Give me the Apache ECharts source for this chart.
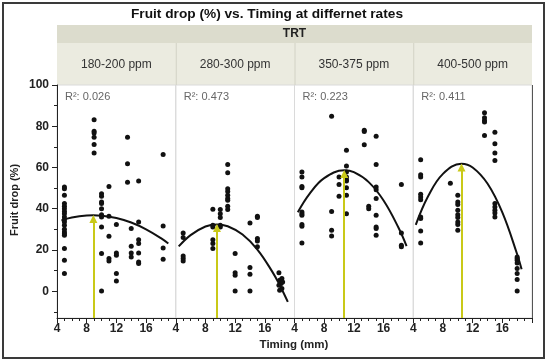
<!DOCTYPE html>
<html><head><meta charset="utf-8">
<script src="https://cdn.jsdelivr.net/npm/echarts@6/dist/echarts.min.js"></script>
<style>html,body{margin:0;padding:0;background:#fff}#c{width:550px;height:361px}</style>
</head><body><div id="c"></div>
<script>
const titleText = 'Fruit drop (%) vs. Timing at differnet rates';
const groupLabel = 'TRT';
const panelLabels = ['180-200 ppm', '280-300 ppm', '350-375 ppm', '400-500 ppm'];
const r2Labels = ['0.026', '0.473', '0.223', '0.411'];
const yTicks = [0, 20, 40, 60, 80, 100];
const yMinorTicks = [-10, 10, 30, 50, 70, 90];

// [timing, [fruit drop values]]
const drop180 = [
  [5, [50.5, 49.7, 46.5, 42.5, 41.2, 40, 38.7, 37.6, 36, 34.7, 33.6, 32, 30, 28.7, 27.9, 27.1, 20.7, 15, 8.6]],
  [9, [83.1, 77.6, 76.7, 74.7, 71.2, 67.0]],
  [10, [47.3, 46, 43.2, 42.5, 40, 37.1, 36, 31.1, 18.3, 0.1]],
  [11, [50.8, 36.3, 26.6, 15.8, 14.7]],
  [12, [32.4, 18.5, 17.4, 8.6, 5.0]],
  [13.5, [74.7, 61.8, 52.8]],
  [14, [30.4, 21.8, 18.5, 16.6]],
  [15, [53.4, 33.6, 25.0, 23.1, 18.5, 14.2, 13.4]],
  [18.3, [66.3, 31.6, 21.0, 15.5]]
];
const drop280 = [
  [5, [28.2, 26.0, 17.1, 15.8, 14.7]],
  [9, [39.7, 32.0, 31.1, 25.0, 23.1, 20.7]],
  [10, [39.6, 37.6, 35.7, 32.0, 31.1]],
  [11, [61.5, 57.5, 49.7, 48.4, 46.5, 44.9, 44.1, 41.2, 39.6]],
  [12, [18.3, 8.9, 7.7, 0.1]],
  [14, [33.1, 11.5, 8.2, 0.1]],
  [15, [36.3, 35.7, 25.5, 24.4, 21.5]],
  [17.9, [8.9, 2.9]],
  [18.0, [5.3, 0.5]],
  [18.2, [3.7]],
  [18.3, [6.1, 1.3]],
  [18.4, [4.5]]
];
const drop350 = [
  [5, [57.8, 55.4, 50.8, 50.2, 38.4, 37.6, 36.8, 32.4, 31.5, 23.4]],
  [9, [84.9, 38.7, 29.5, 26.8]],
  [10, [55.4, 51.8, 46.0]],
  [11, [68.3, 60.7, 57.8, 55.4, 54.1, 53.4, 50.2, 46.5, 37.6]],
  [13.4, [78.0, 77.5, 71.0]],
  [14, [41.2, 40.0]],
  [15, [75.2, 61.5, 50.5, 49.2, 44.9, 36.8, 31.1, 30.4, 27.1]],
  [18.4, [51.7, 28.2, 22.3, 21.5]]
];
const drop400 = [
  [5, [63.8, 56.5, 55.4, 47.0, 45.7, 44.4, 36.0, 35.2, 29.2, 23.4]],
  [9, [52.4]],
  [10, [46.5, 43.2, 42.1, 39.2, 37.1, 35.7, 33.6, 32.4, 29.5]],
  [13.6, [86.5, 84.1, 82.8, 82.0, 75.5]],
  [15, [77.1, 71.5, 67.0, 63.4, 42.5, 40.8, 39.2, 37.9, 36.0]],
  [18, [16.6, 15.8, 15.0, 13.7, 11.0, 8.6, 5.7, 0.1]]
];

// fitted curves
const curveT180 = [4.6, 6, 8, 8.9, 10, 12, 14, 16, 18, 19];
const curveV180 = [34.3, 35.7, 36.7, 36.8, 36.6, 35.5, 33.3, 30.0, 25.7, 23.1];
const curveT280 = [4.4, 6, 8, 9.55, 11, 13, 15, 17, 18, 19.1];
const curveV280 = [21.7, 27.2, 31.4, 32.4, 31.5, 27.5, 20.2, 9.5, 3.0, -5.2];
const curveT350 = [4.45, 6, 8, 10.7, 12, 14, 16, 18, 19.1];
const curveV350 = [38.3, 47.1, 54.8, 58.6, 57.7, 52.9, 44.0, 30.9, 21.9];
const curveT400 = [4.34, 6, 8, 10.5, 12, 14, 16, 18, 18.6];
const curveV400 = [32.2, 46.0, 56.9, 61.8, 60.0, 52.2, 38.2, 17.9, 10.6];

const peakT = [8.9, 9.55, 10.7, 10.5];
const peakV = [36.8, 32.4, 58.6, 61.8];

const drops = [drop180, drop280, drop350, drop400];
const curvesT = [curveT180, curveT280, curveT350, curveT400];
const curvesV = [curveV180, curveV280, curveV350, curveV400];

const FONT = '"Liberation Sans", Arial, sans-serif';
const L = 57, R = 532, T = 85, B = 318;
const W = (R - L) / 4;
const YMIN = -13, YMAX = 100;

const grids = [], xAxes = [], yAxes = [], series = [], graphics = [];

for (let i = 0; i < 4; i++) {
  grids.push({left: L + i * W, top: T, width: W, height: B - T, show: true,
    borderColor: '#dadada', borderWidth: 1, backgroundColor: 'transparent'});
  xAxes.push({gridIndex: i, type: 'value', min: 4, max: 20, interval: 4,
    axisLine: {show: true, onZero: false, lineStyle: {color: '#222', width: 1}},
    axisTick: {show: true, length: 5, lineStyle: {color: '#222'}},
    minorTick: {show: true, splitNumber: 4, length: 3, lineStyle: {color: '#222'}},
    splitLine: {show: false},
    axisLabel: {showMaxLabel: false, fontWeight: 'bold', fontSize: 12, color: '#222', margin: 5, fontFamily: FONT}});
  yAxes.push({gridIndex: i, type: 'value', min: YMIN, max: YMAX, show: i === 0,
    axisLine: {show: true, lineStyle: {color: '#222'}},
    axisTick: {show: true, length: 5, customValues: yTicks, lineStyle: {color: '#222'}},
    axisLabel: {show: true, customValues: yTicks, fontWeight: 'bold', fontSize: 12, color: '#222', margin: 8, fontFamily: FONT},
    splitLine: {show: false}});

  const pts = [];
  drops[i].forEach(g => g[1].forEach(v => pts.push([g[0], v])));
  // arrow from axis to the peak of the fitted curve
  series.push({type: 'line', xAxisIndex: i, yAxisIndex: i, data: [], z: 2, animation: false,
    markLine: {silent: true, animation: false, symbol: ['none', 'triangle'], symbolSize: 8, symbolOffset: [0, 0],
      label: {show: false}, lineStyle: {color: '#c9c918', width: 2, type: 'solid', opacity: 1},
      itemStyle: {color: '#c9c918'},
      data: [[{coord: [peakT[i], YMIN]}, {coord: [peakT[i], peakV[i] - 1.8]}]]}});
  series.push({type: 'scatter', xAxisIndex: i, yAxisIndex: i, data: pts, symbolSize: 5,
    itemStyle: {color: '#111', opacity: 1}, z: 3, animation: false});
  series.push({type: 'line', xAxisIndex: i, yAxisIndex: i, smooth: 0.4, symbol: 'none',
    data: curvesT[i].map((t, k) => [t, curvesV[i][k]]),
    lineStyle: {color: '#111', width: 2}, z: 4, animation: false});

  graphics.push({type: 'text', left: L + i * W + 8, top: 91,
    style: {text: 'R²: ' + r2Labels[i], font: '11px ' + FONT, fill: '#666'}});
  graphics.push({type: 'text', x: L + i * W + W / 2, y: 65,
    style: {text: panelLabels[i], font: '12px ' + FONT, fill: '#333', align: 'center', verticalAlign: 'middle'}});
  if (i > 0) {
    graphics.push({type: 'line', shape: {x1: L + i * W + 0.5, y1: 43, x2: L + i * W + 0.5, y2: 85},
      style: {stroke: '#d2d2c5', lineWidth: 1}});
  }
}
yAxes.push({gridIndex: 0, type: 'value', min: YMIN, max: YMAX, position: 'left',
  axisLine: {show: false}, axisTick: {show: true, length: 3, customValues: yMinorTicks, lineStyle: {color: '#222'}},
  axisLabel: {show: false}, splitLine: {show: false}});

graphics.unshift(
  {type: 'rect', shape: {x: L, y: 25, width: R - L, height: 18}, style: {fill: '#dcdccd'}, z: -1},
  {type: 'rect', shape: {x: L, y: 43, width: R - L, height: 42}, style: {fill: '#ebebe0'}, z: -1}
);
graphics.push(
  {type: 'text', x: (L + R) / 2, y: 34, style: {text: groupLabel, font: 'bold 12px ' + FONT, fill: '#222', align: 'center', verticalAlign: 'middle'}},
  {type: 'text', x: 267, y: 14, style: {text: titleText, font: 'bold 13.7px ' + FONT, fill: '#111', align: 'center', verticalAlign: 'middle'}},
  {type: 'text', x: 294, y: 345, style: {text: 'Timing (mm)', font: 'bold 11.5px ' + FONT, fill: '#222', align: 'center', verticalAlign: 'middle'}},
  {type: 'text', x: 15, y: 200, rotation: Math.PI / 2, style: {text: 'Fruit drop (%)', font: 'bold 11px ' + FONT, fill: '#222', align: 'center', verticalAlign: 'middle'}},
  {type: 'line', shape: {x1: R + 0.5, y1: T, x2: R + 0.5, y2: B}, style: {stroke: '#555', lineWidth: 1}},
  {type: 'rect', shape: {x: 3, y: 3, width: 541, height: 355}, style: {fill: 'none', stroke: '#3a3a3a', lineWidth: 2}}
);

const chart = echarts.init(document.getElementById('c'), null, {renderer: 'canvas'});
chart.setOption({
  animation: false,
  backgroundColor: '#fff',
  grid: grids, xAxis: xAxes, yAxis: yAxes, series: series, graphic: graphics
});
</script></body></html>
